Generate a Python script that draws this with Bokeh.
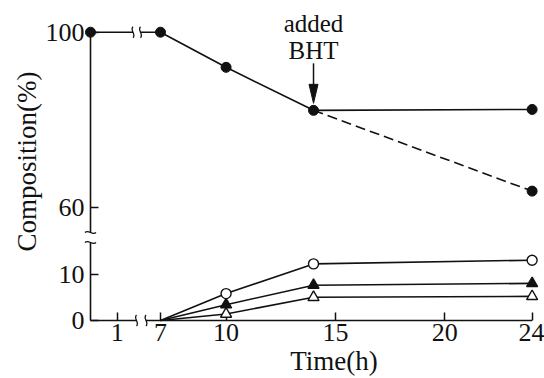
import numpy as np
from bokeh.plotting import figure
from bokeh.models import Range1d, FixedTicker
from bokeh.core.properties import value
from bokeh.embed import file_html
from bokeh.resources import INLINE

# ---------------- data ----------------
hours_main = [0, 7, 10, 14]
pct_main = [100, 100, 92.0, 82.2]
hours_after = [14, 24]
pct_with_bht = [82.2, 82.4]
pct_without_bht = [82.2, 63.8]

hours_minor = [7, 10, 14, 24]
open_circle = [0, 5.8, 12.2, 13.0]
filled_triangle = [0, 3.4, 7.6, 8.0]
open_triangle = [0, 1.4, 5.0, 5.2]

x_ticks = [1, 7, 10, 15, 20, 24]
y_ticks = [0, 10, 60, 100]
bht_hour = 14
bht_value = 82.2

# ---------------- broken-axis transforms (data -> display units) ----------------
def tx(h):
    h = np.asarray(h, dtype=float)
    return np.round(np.where(h <= 3, h * 26.7, 70 + (h - 7) * 21.86), 2)

def ty(v):
    v = np.asarray(v, dtype=float)
    return np.round(np.where(v <= 30, v * 4.64, 112.7 + (v - 60) * 4.39), 2)

X_GAP_AXIS = (46.0, 55.5)     # gap in the time axis (display units)
X_GAP_LINE = (42.5, 50.0)     # gap in the 100 % line
Y_GAP_AXIS = (78.0, 88.0)     # gap in the composition axis

FONT = "Liberation Serif"
BLACK = "#111111"

p = figure(width=544, height=378, output_backend="svg", toolbar_location=None,
           x_range=Range1d(0, 446), y_range=Range1d(0, 301),
           min_border_left=90, min_border_right=8, min_border_top=19,
           min_border_bottom=58)
p.grid.visible = False
p.outline_line_color = None
p.background_fill_color = "white"
p.border_fill_color = "white"

xt = [float(v) for v in tx(x_ticks)]
yt = [float(v) for v in ty(y_ticks)]
p.xaxis.ticker = FixedTicker(ticks=xt)
p.xaxis.major_label_overrides = {k: str(t) for k, t in zip(xt, x_ticks)}
p.yaxis.ticker = FixedTicker(ticks=yt)
p.yaxis.major_label_overrides = {k: str(t) for k, t in zip(yt, y_ticks)}
for ax in (p.xaxis, p.yaxis):
    ax.axis_line_color = None
    ax.major_tick_in = 8
    ax.major_tick_out = 0
    ax.major_tick_line_width = 1.5
    ax.major_tick_line_color = BLACK
    ax.minor_tick_line_color = None
    ax.major_label_text_font = FONT
    ax.major_label_text_font_size = "26px"
    ax.major_label_text_color = BLACK
p.xaxis.major_label_standoff = 3
p.yaxis.major_label_standoff = 6

LW = 1.6

# axis lines with breaks
x_end = float(tx(24))
y_top = float(ty(100))
p.segment(x0=[0, X_GAP_AXIS[1]], y0=[0, 0], x1=[X_GAP_AXIS[0], x_end], y1=[0, 0],
          line_color=BLACK, line_width=LW, level="overlay")
p.segment(x0=[0, 0], y0=[0, Y_GAP_AXIS[1]], x1=[0, 0], y1=[Y_GAP_AXIS[0], y_top],
          line_color=BLACK, line_width=LW, level="overlay")

# break marks (S-shaped)
def vmark(x, y, h=5.5, w=3.5):
    return dict(x0=x, y0=y - h, x1=x, y1=y + h, cx0=x + w, cy0=y - h / 3, cx1=x - w, cy1=y + h / 3)

def hmark(x, y, h=5.5, w=3.5):
    return dict(x0=x - h, y0=y, x1=x + h, y1=y, cx0=x - h / 3, cy0=y + w, cx1=x + h / 3, cy1=y - w)

marks = [vmark(X_GAP_AXIS[0], 0), vmark(X_GAP_AXIS[1], 0),
         vmark(X_GAP_LINE[0], y_top), vmark(X_GAP_LINE[1], y_top),
         hmark(0, Y_GAP_AXIS[0]), hmark(0, Y_GAP_AXIS[1])]
bz = {k: [m[k] for m in marks] for k in marks[0]}
p.bezier(**bz, line_color=BLACK, line_width=1.3, level="overlay")

# main series (filled circles)
mx = tx(hours_main)
my = ty(pct_main)
p.line([mx[0], X_GAP_LINE[0]], [my[0], my[0]], line_color=BLACK, line_width=LW, level="overlay")
p.line([X_GAP_LINE[1]] + list(mx[1:]), [my[0]] + list(my[1:]),
       line_color=BLACK, line_width=LW, level="overlay")
p.line(tx(hours_after), ty(pct_with_bht), line_color=BLACK, line_width=LW, level="overlay")
p.line(tx(hours_after), ty(pct_without_bht), line_color=BLACK, line_width=LW,
       line_dash="10 5", level="overlay")
p.scatter(list(mx) + list(tx(hours_after[1:])) * 2,
          list(my) + list(ty(pct_with_bht[1:])) + list(ty(pct_without_bht[1:])),
          marker="circle", size=10, fill_color=BLACK, line_color=BLACK, level="overlay")

# minor series
hx = tx(hours_minor)
for vals, marker, fill, size in [(open_triangle, "triangle", "white", 11),
                                 (filled_triangle, "triangle", BLACK, 11),
                                 (open_circle, "circle", "white", 10)]:
    vy = ty(vals)
    p.line(hx, vy, line_color=BLACK, line_width=LW, level="overlay")
    p.scatter(hx[1:], vy[1:], marker=marker, size=size, fill_color=fill,
              line_color=BLACK, line_width=1.4, level="overlay")

# "added BHT" annotation with arrow
ax_x = float(tx(bht_hour))
ax_y = float(ty(bht_value))
tip = ax_y + 7
p.segment(x0=[ax_x], y0=[tip + 18], x1=[ax_x], y1=[tip + 40], line_color=BLACK,
          line_width=1.5, level="overlay")
p.patch([ax_x - 4.5, ax_x + 4.5, ax_x], [tip + 19, tip + 19, tip], fill_color=BLACK,
        line_color=BLACK, level="overlay")
p.text(x=[ax_x, ax_x], y=[ax_y + 87, ax_y + 60], text=["added", "BHT"],
       text_align="center", text_baseline="middle", text_font=value(FONT),
       text_font_size="25px", text_color=BLACK, level="overlay")

# axis titles (unclipped text glyphs outside the frame)
p.text(x=[243.5], y=[-40], text=["Time(h)"], text_align="center",
       text_baseline="middle", text_font=value(FONT), text_font_size="27px",
       text_color=BLACK, level="overlay")
p.text(x=[-64], y=[159], text=["Composition(%)"], angle=np.pi / 2,
       text_align="center", text_baseline="middle", text_font=value(FONT),
       text_font_size="27px", text_color=BLACK, level="overlay")

open("out.html", "w").write(file_html(p, INLINE))
